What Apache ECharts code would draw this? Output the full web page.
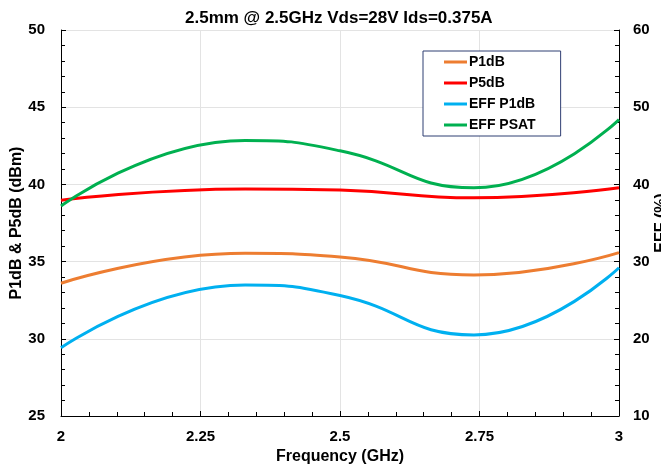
<!DOCTYPE html>
<html>
<head>
<meta charset="utf-8">
<script src="https://cdn.jsdelivr.net/npm/echarts@6/dist/echarts.min.js"></script>
<style>
  html, body { margin: 0; padding: 0; background: #fff; }
</style>
</head>
<body>
<div id="chart" style="width: 661px; height: 470px;"></div>
<script>
  // frequencies (GHz) where the curves were read (ends, peak, middle, dip)
  var freq = [2.0, 2.33, 2.5, 2.74, 3.0];
  // left axis, dBm
  var p1dB = [33.6, 35.54, 35.3, 34.13, 35.58];
  var p5dB = [38.98, 39.7, 39.63, 39.13, 39.78];
  // right axis, %
  var effP1dB = [18.84, 26.97, 25.6, 20.5, 29.2];
  var effPsat = [37.2, 45.7, 44.35, 39.56, 48.4];

  var font = '"Liberation Sans", Arial, sans-serif';

  function pairs(xs, ys) {
    return xs.map(function (x, i) { return [x, ys[i]]; });
  }

  function lineSeries(name, color, data, yIndex) {
    return {
      name: name,
      type: 'line',
      yAxisIndex: yIndex,
      smooth: 0.5,
      symbol: 'none',
      lineStyle: { color: color, width: 3 },
      itemStyle: { color: color },
      data: data
    };
  }

  var chart = echarts.init(document.getElementById('chart'));

  var option = {
    animation: false,
    textStyle: { fontFamily: font },
    title: {
      text: '2.5mm @ 2.5GHz Vds=28V Ids=0.375A',
      left: 180,
      top: 5,
      textStyle: { fontSize: 17, fontWeight: 'bold', color: '#000', fontFamily: font }
    },
    legend: {
      orient: 'vertical',
      left: 423,
      top: 51,
      icon: 'rect',
      itemWidth: 23,
      itemHeight: 3,
      itemGap: 7,
      padding: [4, 25, 4, 21],
      borderColor: '#2f3e73',
      borderWidth: 1,
      backgroundColor: '#fff',
      textStyle: { fontSize: 14, fontWeight: 'bold', color: '#000', fontFamily: font, padding: [0, 0, 0, -3] },
      data: ['P1dB', 'P5dB', 'EFF P1dB', 'EFF PSAT']
    },
    grid: { left: 61, right: 42, top: 30, bottom: 54, outerBoundsMode: 'none' },
    xAxis: {
      type: 'value',
      min: 2,
      max: 3,
      interval: 0.25,
      name: 'Frequency (GHz)',
      nameLocation: 'middle',
      nameGap: 33,
      nameMoveOverlap: false,
      nameTextStyle: { fontSize: 16, fontWeight: 'bold', color: '#000', fontFamily: font },
      axisLine: { lineStyle: { color: '#000', width: 1 } },
      axisTick: { inside: true, length: 5, lineStyle: { color: '#000' } },
      minorTick: { show: true, splitNumber: 5, length: 4, lineStyle: { color: '#000' } },
      axisLabel: { margin: 13, fontSize: 15, fontWeight: 'bold', color: '#000', fontFamily: font },
      splitLine: { show: true, lineStyle: { color: '#e3e3e3', width: 1 } }
    },
    yAxis: [
      {
        type: 'value',
        min: 25,
        max: 50,
        interval: 5,
        name: 'P1dB & P5dB (dBm)',
        nameLocation: 'middle',
        nameGap: 36,
        nameMoveOverlap: false,
        nameTextStyle: { fontSize: 16, fontWeight: 'bold', color: '#000', fontFamily: font },
        axisLine: { show: true, lineStyle: { color: '#000', width: 1 } },
        axisTick: { show: true, inside: true, length: 5, lineStyle: { color: '#000' } },
        minorTick: { show: true, splitNumber: 5, length: 4, lineStyle: { color: '#000' } },
        axisLabel: { margin: 16, fontSize: 15, fontWeight: 'bold', color: '#000', fontFamily: font },
        splitLine: { show: true, lineStyle: { color: '#e3e3e3', width: 1 } }
      },
      {
        type: 'value',
        position: 'right',
        min: 10,
        max: 60,
        interval: 10,
        name: 'EFF (%)',
        nameLocation: 'middle',
        nameGap: 35,
        nameRotate: 90,
        nameMoveOverlap: false,
        nameTextStyle: { fontSize: 16, fontWeight: 'bold', color: '#000', fontFamily: font },
        axisLine: { show: true, lineStyle: { color: '#000', width: 1 } },
        axisTick: { show: true, inside: true, length: 5, lineStyle: { color: '#000' } },
        minorTick: { show: true, splitNumber: 5, length: 4, lineStyle: { color: '#000' } },
        axisLabel: { margin: 14, fontSize: 15, fontWeight: 'bold', color: '#000', fontFamily: font },
        splitLine: { show: false }
      }
    ],
    series: [
      lineSeries('P1dB', '#ed7d31', pairs(freq, p1dB), 0),
      lineSeries('P5dB', '#ff0000', pairs(freq, p5dB), 0),
      lineSeries('EFF P1dB', '#00b0f0', pairs(freq, effP1dB), 1),
      lineSeries('EFF PSAT', '#00b050', pairs(freq, effPsat), 1)
    ]
  };

  chart.setOption(option);
</script>
</body>
</html>
